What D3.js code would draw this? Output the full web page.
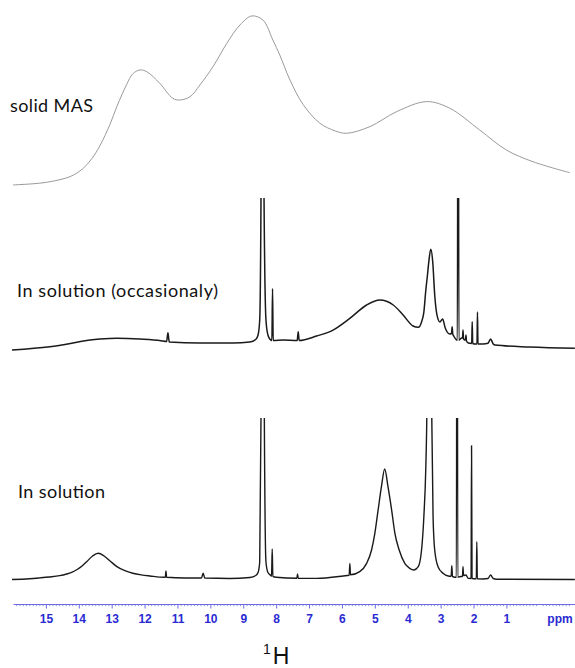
<!DOCTYPE html>
<html>
<head>
<meta charset="utf-8">
<script src="https://cdn.jsdelivr.net/npm/d3@7"></script>
<style>
  html, body { margin: 0; padding: 0; background: #fff; }
  svg { display: block; }
</style>
</head>
<body>
<svg id="chart" width="575" height="668"></svg>
<script>
// 1H spectra of the same sample, [ppm, intensity (a.u.)], ordered from high to low ppm

// solid-state MAS spectrum (broad lines)
const solidMAS = [
  [16.0, 2.8], [15.3, 3.6], [14.88, 4.6], [14.27, 7.4], [13.88, 11.8], [13.6, 17.5],
  [13.36, 24.5], [13.05, 36.5], [12.84, 46.5], [12.54, 58.8], [12.36, 64.5], [12.14, 66.7],
  [11.93, 65.7], [11.54, 59.3], [11.14, 50.9], [10.93, 50], [10.62, 51.8], [10.32, 58.3],
  [9.92, 68.5], [9.50, 81.5], [9.10, 91.7], [8.74, 96.7], [8.40, 94.4], [8.10, 83.3],
  [7.89, 75.0], [7.58, 61.1], [7.18, 47.5], [6.67, 37.1], [6.2, 32.8], [5.86, 31.5],
  [5.15, 35.2], [4.34, 43.5], [3.43, 49.1], [2.72, 45.4], [1.81, 33.3], [1.00, 22.2],
  [0.19, 15.7], [-0.93, 9.6]
];

// solution spectrum, occasional sample
const solutionOccasional = [
  [16.03, 0], [14.88, 2.2], [13.36, 7.3], [12.84, 7.8], [12.14, 7.3], [11.5, 6.2],
  [11.33, 5.6], [11.29, 11.5], [11.25, 5.4], [10.32, 4.7], [9.32, 4.7], [8.80, 5.3],
  [8.62, 7], [8.55, 10], [8.50, 20], [8.46, 105], [8.415, 400], [8.37, 105], [8.31, 20],
  [8.25, 10], [8.18, 7], [8.13, 6.3], [8.11, 41], [8.09, 6.3], [7.79, 6.7], [7.36, 6.3],
  [7.33, 12.2], [7.30, 6.3], [6.77, 9.3], [6.27, 13.3], [5.76, 21.1], [5.25, 30],
  [4.85, 33.3], [4.44, 30], [4.14, 23.3], [3.84, 16], [3.68, 15.1], [3.58, 18.7],
  [3.51, 25.3], [3.45, 40], [3.40, 50], [3.36, 58.7], [3.30, 67.1], [3.24, 58.7],
  [3.18, 36.7], [3.11, 23.3], [3.02, 18.7], [2.94, 20.7], [2.86, 14.7], [2.72, 10.7],
  [2.67, 11], [2.65, 15.5], [2.63, 10.5], [2.60, 9.3], [2.52, 6.7], [2.49, 6.5],
  [2.468, 400], [2.446, 6.5], [2.36, 8], [2.335, 8], [2.32, 13.3], [2.305, 7.5],
  [2.26, 6.7], [2.245, 7], [2.23, 10], [2.215, 6], [2.16, 4.7], [2.055, 4.4], [2.04, 18.9],
  [2.025, 4.3], [1.96, 4], [1.895, 4], [1.88, 25.3], [1.865, 4], [1.71, 4], [1.56, 4.5],
  [1.48, 7.3], [1.40, 4], [1.35, 3.3], [0.29, 2], [-1.08, 1.1]
];

// solution spectrum
const solution = [
  [16.03, 0.3], [15.5, 0.8], [15.18, 1.4], [14.9, 2.0], [14.58, 2.9], [14.37, 4],
  [14.2, 5.2], [14.05, 7.0], [13.9, 9.3], [13.76, 12.2], [13.58, 16], [13.41, 17.8],
  [13.23, 16], [13.05, 12.7], [12.84, 8.9], [12.60, 6.2], [12.36, 4.5], [12.1, 3.4],
  [11.84, 2.7], [11.40, 1.8], [11.37, 1.8], [11.35, 6], [11.33, 1.8], [10.78, 1.3],
  [10.27, 1.3], [10.22, 4.5], [10.17, 1.3], [9.41, 1], [8.80, 1.7], [8.62, 3], [8.55, 5],
  [8.50, 12], [8.46, 110], [8.41, 500], [8.36, 110], [8.31, 12], [8.25, 5], [8.16, 3],
  [8.14, 2.5], [8.12, 20.7], [8.10, 2.4], [8.0, 1.8], [7.37, 1.2], [7.35, 4], [7.33, 1.2],
  [6.77, 1.1], [5.96, 2.7], [5.78, 3.2], [5.76, 11], [5.74, 3.5], [5.46, 5.6], [5.25, 11.1],
  [5.10, 20], [5.00, 31.1], [4.90, 46.7], [4.80, 62.2], [4.70, 74], [4.60, 62.2],
  [4.49, 46.7], [4.39, 31.1], [4.26, 20], [4.09, 11.1], [3.94, 7.8], [3.81, 6.7],
  [3.68, 8.9], [3.58, 20], [3.51, 42.2], [3.45, 75.5], [3.42, 110], [3.35, 400],
  [3.27, 110], [3.23, 42.2], [3.18, 20], [3.08, 8.9], [2.92, 4.4], [2.77, 2.7], [2.68, 2.5],
  [2.66, 9.5], [2.64, 2.4], [2.57, 1.8], [2.52, 1.8], [2.50, 500], [2.48, 1.8], [2.42, 2.2],
  [2.335, 2.5], [2.32, 8.9], [2.305, 3], [2.23, 3.3], [2.16, 1.1], [2.075, 1], [2.06, 89.5],
  [2.045, 1], [1.915, 0.8], [1.90, 25.5], [1.885, 0.8], [1.71, 0.7], [1.56, 1], [1.48, 3.3],
  [1.40, 1], [1.30, 0.5], [-1.08, 0.3]
];

const traceLabels = ["solid MAS", "In solution (occasionaly)", "In solution"];
const majorTicks = [15, 14, 13, 12, 11, 10, 9, 8, 7, 6, 5, 4, 3, 2, 1];
const axisUnit = "ppm";
const nucleus = "H";
const massNumber = "1";

const svg = d3.select("#chart");
const W = 575;

// shared chemical-shift axis, high ppm on the left
const x = d3.scaleLinear().domain([16.0, -1.1]).range([13, 575.5]);

const panels = [
  { data: solidMAS, label: traceLabels[0], base: 190, top: 10, clipTop: 0,
    stroke: "#9a9a9a", width: 1, curve: d3.curveCatmullRom.alpha(0.5),
    lx: 10, ly: 112, lw: 83 },
  { data: solutionOccasional, label: traceLabels[1], base: 350, top: 200, clipTop: 198,
    stroke: "#1a1a1a", width: 1.5, curve: d3.curveMonotoneX,
    lx: 17, ly: 297, lw: 201 },
  { data: solution, label: traceLabels[2], base: 580, top: 430, clipTop: 418,
    stroke: "#1a1a1a", width: 1.4, curve: d3.curveMonotoneX,
    lx: 18, ly: 498, lw: 87 }
];

const defs = svg.append("defs");

panels.forEach((p, i) => {
  const y = d3.scaleLinear().domain([0, 100]).range([p.base, p.top]);
  const id = "clip" + i;
  defs.append("clipPath").attr("id", id)
    .append("rect").attr("x", 0).attr("y", p.clipTop)
    .attr("width", W).attr("height", 668 - p.clipTop);

  const line = d3.line()
    .x(d => x(d[0]))
    .y(d => y(d[1]))
    .curve(p.curve);

  svg.append("path")
    .datum(p.data)
    .attr("clip-path", `url(#${id})`)
    .attr("fill", "none")
    .attr("stroke", p.stroke)
    .attr("stroke-width", p.width)
    .attr("stroke-linejoin", "round")
    .attr("d", line);

  svg.append("text")
    .attr("x", p.lx)
    .attr("y", p.ly)
    .attr("font-family", "Lato, 'Open Sans', sans-serif")
    .attr("font-size", 18)
    .attr("fill", "#111")
    .attr("textLength", p.lw)
    .attr("lengthAdjust", "spacing")
    .text(p.label);
});

// ppm axis
const axisY = 604;
const axisBlue = "#2a2ad2";
const minorTicks = d3.range(160, -11, -1).map(v => v / 10).filter(v => v % 1 !== 0);

const gMinor = svg.append("g").attr("transform", `translate(0,${axisY})`)
  .call(d3.axisBottom(x).tickValues(minorTicks).tickSize(2.2).tickSizeOuter(0).tickFormat(""));
gMinor.select(".domain").remove();
gMinor.selectAll(".tick line").attr("stroke", "#7a7ae6").attr("stroke-width", 0.8);

const gAxis = svg.append("g").attr("transform", `translate(0,${axisY})`)
  .call(d3.axisBottom(x).tickValues(majorTicks).tickSize(4.5).tickSizeOuter(0)
    .tickPadding(6).tickFormat(d3.format("d")));
gAxis.select(".domain").attr("stroke", "#6c6ce0").attr("stroke-width", 1.2);
gAxis.selectAll(".tick line").attr("stroke", "#6c6ce0").attr("stroke-width", 1);
gAxis.selectAll(".tick text")
  .attr("fill", axisBlue)
  .attr("font-family", "'Liberation Sans', Arial, sans-serif")
  .attr("font-weight", "bold")
  .attr("font-size", 12);

svg.append("text")
  .attr("x", 560).attr("y", 623)
  .attr("text-anchor", "middle")
  .attr("font-family", "'Liberation Sans', Arial, sans-serif")
  .attr("font-weight", "bold")
  .attr("font-size", 12)
  .attr("fill", axisBlue)
  .text(axisUnit);

// nucleus label
const nuc = svg.append("text")
  .attr("x", 263).attr("y", 664)
  .attr("font-family", "'Liberation Sans', Arial, sans-serif")
  .attr("font-size", 23)
  .attr("fill", "#111");
nuc.append("tspan").attr("font-size", 14).attr("dy", -10).text(massNumber);
nuc.append("tspan").attr("dy", 10).attr("dx", 2).text(nucleus);
</script>
</body>
</html>
